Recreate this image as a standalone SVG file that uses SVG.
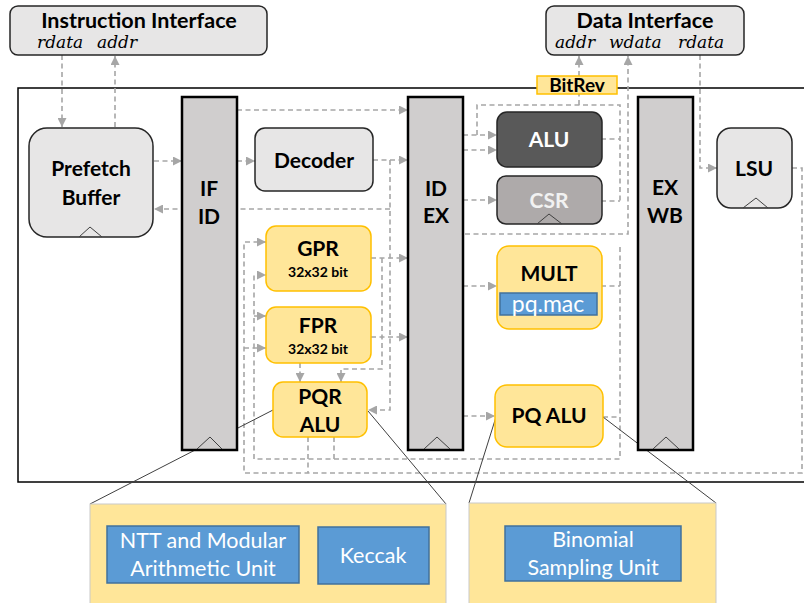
<svg xmlns="http://www.w3.org/2000/svg" width="804" height="603" viewBox="0 0 804 603">
<defs>
<marker id="ah" viewBox="0 0 10 10" refX="10" refY="5" markerWidth="9" markerHeight="9" markerUnits="userSpaceOnUse" orient="auto">
<path d="M0,0 L10,5 L0,10 z" fill="#A6A6A6"/>
</marker>
<style>
.dc{fill:none;stroke:#A6A6A6;stroke-width:1.6;stroke-dasharray:5,3.5}
.ar{marker-end:url(#ah)}
.zl{fill:none;stroke:#404040;stroke-width:1}
.gbox{fill:#E7E6E6;stroke:#262626;stroke-width:1.5}
.reg{fill:#D0CECE;stroke:#000;stroke-width:2.5}
.ybox{fill:#FFE699;stroke:#FFC000;stroke-width:1.5}
.bbox{fill:#5B9BD5;stroke:#41719C;stroke-width:1.5}
.panel{fill:#FFE699;stroke:#C9C9C9;stroke-width:1}
.clk{fill:none;stroke:#404040;stroke-width:1}
.t{font-family:Lato,"Open Sans","Liberation Sans",sans-serif;font-weight:bold;font-size:21px;text-anchor:middle;fill:#000}
.ts{font-family:Lato,"Open Sans","Liberation Sans",sans-serif;font-weight:bold;font-size:14px;text-anchor:middle;fill:#000}
.tt{font-family:Lato,"Open Sans","Liberation Sans",sans-serif;font-weight:bold;font-size:21.5px;text-anchor:middle;fill:#000}
.tw{font-family:Lato,"Open Sans","Liberation Sans",sans-serif;font-size:21.5px;text-anchor:middle;fill:#fff}
.ti{font-family:"DejaVu Serif","Liberation Serif",serif;font-style:italic;font-size:17px;fill:#000}
</style>
</defs>
<rect width="804" height="603" fill="#fff"/>
<rect id="frame" x="18" y="88" width="800" height="394" fill="none" stroke="#000" stroke-width="1.5"/>

<g id="connectors">
<path class="dc ar" d="M62,55 V127"/>
<path class="dc ar" d="M115,127 V56"/>
<path class="dc ar" d="M154,161 H182"/>
<path class="dc ar" d="M237,161 H255"/>
<path class="dc ar" d="M373,160 H408"/>
<path class="dc ar" d="M237,110 H408"/>
<path class="dc ar" d="M390,160 V410 H368"/>
<path class="dc ar" d="M390,209 H154"/>
<path class="dc ar" d="M371,258 H408"/>
<path class="dc ar" d="M382,258 V369 H341 V382"/>
<path class="dc ar" d="M371,337 H408"/>
<path class="dc ar" d="M300,363 V382"/>
<path class="dc ar" d="M463,135 H497"/>
<path class="dc ar" d="M463,150 H497"/>
<path class="dc ar" d="M463,200 H497"/>
<path class="dc ar" d="M463,286 H497"/>
<path class="dc ar" d="M463,416 H495"/>
<path class="dc" d="M477,135 V105 H620 V201"/>
<path class="dc" d="M601,139 H620"/>
<path class="dc" d="M601,201 H620"/>
<path class="dc" d="M579,105 V94"/>
<path class="dc ar" d="M579,76 V56"/>
<path class="dc ar" d="M465,234 H628 V56"/>
<path class="dc ar" d="M700,55 V168 H717"/>
<path class="dc ar" d="M792,168 H802 V473 H244 V242 H266"/>
<path class="dc ar" d="M244,348 H266"/>
<path class="dc ar" d="M620,247 V459 H254 V275 H266"/>
<path class="dc ar" d="M254,316 H266"/>
<path class="dc" d="M601,286 H620"/>
<path class="dc" d="M603,417 H620"/>
<path class="dc" d="M334,437 V459"/>
<path class="dc" d="M308,437 V473"/>
</g>

<g id="zoomlines">
<path class="zl" d="M273,410 L90,504"/>
<path class="zl" d="M368,411 L446,504"/>
<path class="zl" d="M496,417 L469,503"/>
<path class="zl" d="M603,417 L716,503"/>
</g>

<g id="instr-if">
<rect class="gbox" x="10" y="6" width="257" height="49" rx="8"/>
<text class="tt" x="139" y="28">Instruction Interface</text>
<text class="ti" x="37" y="48">rdata</text>
<text class="ti" x="97" y="48">addr</text>
</g>

<g id="data-if">
<rect class="gbox" x="546" y="6" width="198" height="49" rx="8"/>
<text class="tt" x="645" y="28">Data Interface</text>
<text class="ti" x="555" y="48">addr</text>
<text class="ti" x="609" y="48">wdata</text>
<text class="ti" x="678" y="48">rdata</text>
</g>

<g id="bitrev">
<rect x="537" y="76" width="80" height="18" fill="#FFE699" stroke="#FFC000" stroke-width="1.5"/>
<text class="t" x="577" y="92" style="font-size:19px">BitRev</text>
</g>

<g id="prefetch">
<rect class="gbox" x="29" y="128" width="124" height="109" rx="18"/>
<polyline class="clk" points="79,237 90,227 102,237"/>
<text class="t" x="91" y="176">Prefetch</text>
<text class="t" x="91" y="205">Buffer</text>
</g>

<g id="ifid">
<rect class="reg" x="182" y="97" width="55" height="353"/>
<polyline class="clk" points="197,449 210,437 222,449"/>
<text class="t" x="209" y="196">IF</text>
<text class="t" x="209" y="224">ID</text>
</g>

<g id="decoder">
<rect class="gbox" x="255" y="128" width="118" height="63" rx="10"/>
<text class="t" x="314" y="168">Decoder</text>
</g>

<g id="gpr">
<rect class="ybox" x="266" y="226" width="105" height="65" rx="10"/>
<text class="t" x="318" y="256">GPR</text>
<text class="ts" x="318" y="277">32x32 bit</text>
</g>

<g id="fpr">
<rect class="ybox" x="266" y="307" width="105" height="56" rx="10"/>
<text class="t" x="318" y="333">FPR</text>
<text class="ts" x="318" y="354">32x32 bit</text>
</g>

<g id="pqr-alu">
<rect class="ybox" x="273" y="382" width="94" height="55" rx="10"/>
<text class="t" x="320" y="404">PQR</text>
<text class="t" x="320" y="432">ALU</text>
</g>

<g id="idex">
<rect class="reg" x="408" y="97" width="55" height="353"/>
<polyline class="clk" points="424,449 437,437 450,449"/>
<text class="t" x="436" y="196">ID</text>
<text class="t" x="436" y="223">EX</text>
</g>

<g id="alu">
<rect x="497" y="112" width="105" height="55" rx="10" fill="#595959" stroke="#262626" stroke-width="1.5"/>
<text class="t" x="549" y="147" style="fill:#fff">ALU</text>
</g>

<g id="csr">
<rect x="497" y="176" width="105" height="48" rx="9" fill="#AEAAAA" stroke="#262626" stroke-width="1.5"/>
<polyline class="clk" points="537,224 549,214 562,224"/>
<text class="t" x="549" y="208" style="fill:#F2F2F2">CSR</text>
</g>

<g id="mult">
<rect class="ybox" x="497" y="246" width="105" height="83" rx="12"/>
<text class="t" x="549" y="281">MULT</text>
<rect class="bbox" x="500" y="293" width="97" height="22"/>
<text class="tw" x="548" y="312" style="font-size:23px">pq.mac</text>
</g>

<g id="pq-alu">
<rect class="ybox" x="495" y="385" width="108" height="62" rx="12"/>
<text class="t" x="549" y="423">PQ ALU</text>
</g>

<g id="exwb">
<rect class="reg" x="638" y="97" width="55" height="353"/>
<polyline class="clk" points="653,449 666,437 679,449"/>
<text class="t" x="665" y="195">EX</text>
<text class="t" x="665" y="223">WB</text>
</g>

<g id="lsu">
<rect class="gbox" x="717" y="128" width="75" height="80" rx="14"/>
<polyline class="clk" points="743,208 756,198 768,208"/>
<text class="t" x="754" y="176">LSU</text>
</g>

<g id="pqr-detail">
<rect class="panel" x="90" y="504" width="356" height="110"/>
<rect class="bbox" x="107" y="526" width="192" height="57"/>
<text class="tw" x="203" y="548">NTT and Modular</text>
<text class="tw" x="203" y="576">Arithmetic Unit</text>
<rect class="bbox" x="318" y="527" width="111" height="57"/>
<text class="tw" x="373" y="563">Keccak</text>
</g>

<g id="pq-detail">
<rect class="panel" x="469" y="503" width="247" height="110"/>
<rect class="bbox" x="505" y="526" width="176" height="55"/>
<text class="tw" x="593" y="547">Binomial</text>
<text class="tw" x="593" y="575">Sampling Unit</text>
</g>
</svg>
